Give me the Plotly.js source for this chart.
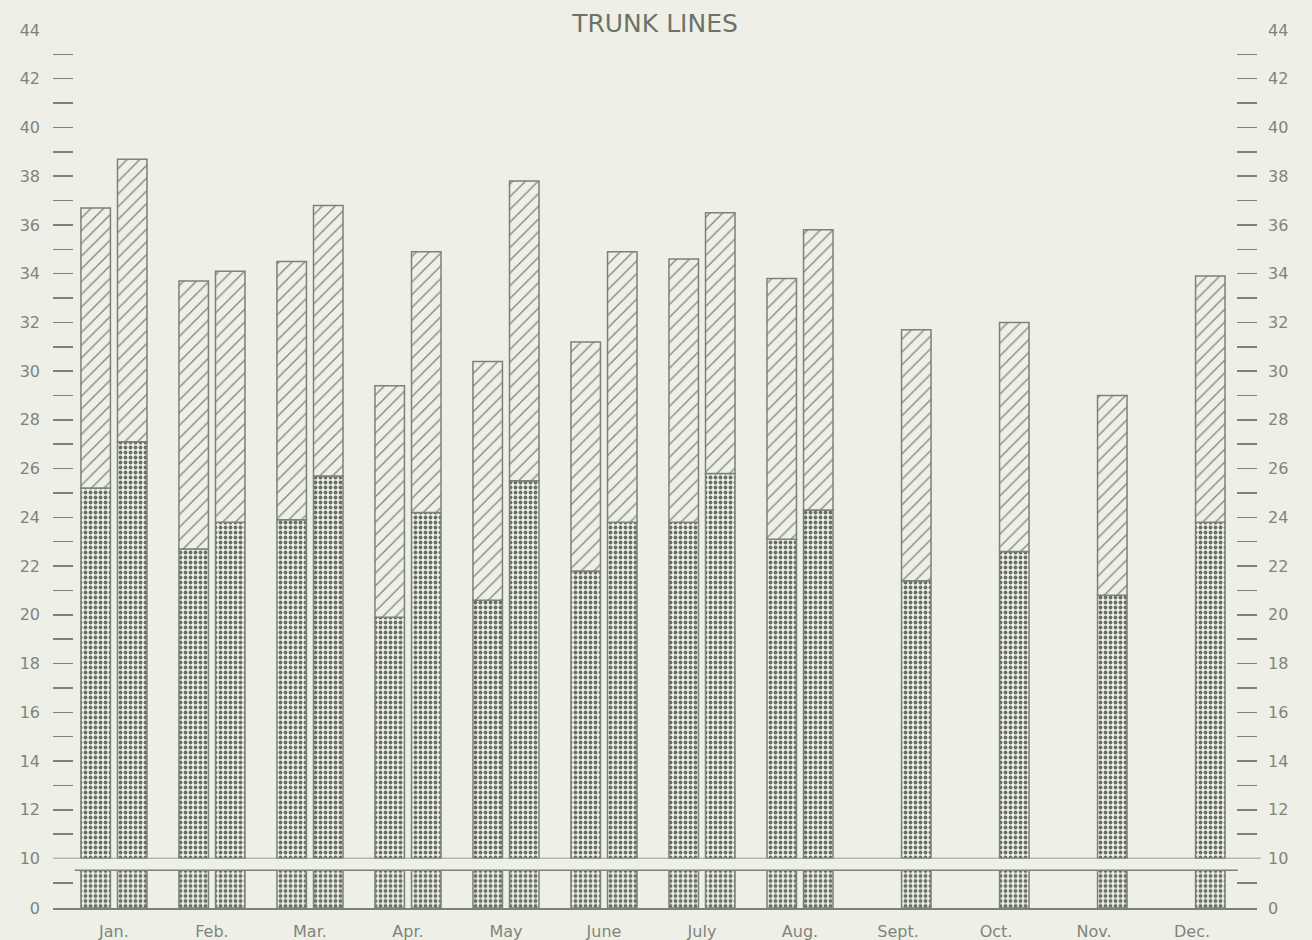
<!DOCTYPE html>
<html><head><meta charset="utf-8">
<script src="https://cdn.plot.ly/plotly-3.0.1.min.js"></script>
<style>html,body{margin:0;padding:0;background:#eef0e7;} #chart{width:1312px;height:940px;}</style>
</head><body><div id="chart"></div>
<script>
// ---- data ----
const months = ['Jan.','Feb.','Mar.','Apr.','May','June','July','Aug.','Sept.','Oct.','Nov.','Dec.'];
// first bar of each month (only Jan.–Aug.)
const stippleFirst = [25.2, 22.7, 23.9, 19.9, 20.6, 21.8, 23.8, 23.1, null, null, null, null];
const totalFirst   = [36.7, 33.7, 34.5, 29.4, 30.4, 31.2, 34.6, 33.8, null, null, null, null];
// second bar of each month
const stippleSecond = [27.1, 23.8, 25.7, 24.2, 25.5, 23.8, 25.8, 24.3, 21.4, 22.6, 20.8, 23.8];
const totalSecond   = [38.7, 34.1, 36.8, 34.9, 37.8, 34.9, 36.5, 35.8, 31.7, 32.0, 29.0, 33.9];
// axis break
const breakValue = 10;
// tick labels
const upperTickVals = [10,11,12,13,14,15,16,17,18,19,20,21,22,23,24,25,26,27,28,29,30,31,32,33,34,35,36,37,38,39,40,41,42,43,44];
const upperTickText = ['10','','12','','14','','16','','18','','20','','22','','24','','26','','28','','30','','32','','34','','36','','38','','40','','42','','44'];
const lowerTickVals = [0, 5];
const lowerTickText = ['0', ''];

// ---- style ----
const BG = '#eef0e7';
const LINE = '#7b8276';
const TEXT = '#7f857a';
const FONT = 'DejaVu Sans, sans-serif';
const BW = 0.301;
const OFF1 = -0.337, OFF2 = 0.036;

function lowerPart(arr){ return arr.map(v => v == null ? null : Math.min(v, breakValue)); }
function upperPart(arr){ return arr.map(v => v == null ? null : v - breakValue); }
function diff(top, bottom){ return top.map((v,i) => v == null ? null : v - bottom[i]); }

const stipplePattern = {shape: '.', size: 5, solidity: 0.45, fgcolor: '#687063', bgcolor: BG, fillmode: 'replace'};
const hatchPattern = {shape: '/', size: 9, solidity: 0.15, fgcolor: '#818879', bgcolor: BG, fillmode: 'replace'};

function bar(y, base, yaxis, offset, pattern){
  const t = {type:'bar', x: months, y: y, yaxis: yaxis, xaxis: 'x', width: BW, offset: offset,
    marker: {color: BG, line: {color: LINE, width: 1.5}, pattern: pattern},
    hoverinfo: 'skip', showlegend: false};
  if (base !== null) t.base = base;
  return t;
}

const traces = [
  bar(lowerPart(stippleFirst), null, 'y2', OFF1, stipplePattern),
  bar(lowerPart(stippleSecond), null, 'y2', OFF2, stipplePattern),
  bar(upperPart(stippleFirst), stippleFirst.map(v => v == null ? null : breakValue), 'y', OFF1, stipplePattern),
  bar(upperPart(stippleSecond), stippleSecond.map(v => v == null ? null : breakValue), 'y', OFF2, stipplePattern),
  bar(diff(totalFirst, stippleFirst), stippleFirst, 'y', OFF1, hatchPattern),
  bar(diff(totalSecond, stippleSecond), stippleSecond, 'y', OFF2, hatchPattern),
  // empty traces so the right-hand mirror axes get drawn
  {type:'scatter', mode:'markers', x: [], y: [], xaxis:'x', yaxis:'y3', hoverinfo:'skip', showlegend:false},
  {type:'scatter', mode:'markers', x: [], y: [], xaxis:'x', yaxis:'y4', hoverinfo:'skip', showlegend:false}
];

const lowerFrac = 0.0564;
const yCommon = {showgrid:false, zeroline:false, showline:false, ticks:'inside', ticklen:20, tickwidth:1.5,
  tickcolor: LINE, tickfont:{family: FONT, size: 16, color: TEXT}, fixedrange:true};

const layout = {
  width: 1312, height: 940,
  paper_bgcolor: BG, plot_bgcolor: BG,
  margin: {l: 53, r: 55, t: 30, b: 32},
  barmode: 'overlay',
  showlegend: false,
  title: {text: 'TRUNK LINES', font: {family: FONT, size: 25, color: '#6d7369'},
          xref: 'paper', x: 0.5, xanchor: 'center', yref: 'container', y: 1 - 23/940, yanchor: 'middle'},
  xaxis: {type:'category', categoryorder:'array', categoryarray: months, range:[-0.622, 11.663],
    anchor:'y2', domain:[0,1], showline:true, linecolor: LINE, linewidth: 2, ticks:'', showgrid:false,
    zeroline:false, tickfont:{family: FONT, size: 16, color: TEXT}, ticklabelstandoff: 8, fixedrange:true},
  yaxis: Object.assign({}, yCommon, {domain:[lowerFrac, 1], range:[breakValue, 44], anchor:'x',
    tickmode:'array', tickvals: upperTickVals, ticktext: upperTickText, ticklabelstandoff: 12}),
  yaxis2: Object.assign({}, yCommon, {domain:[0, lowerFrac], range:[0, breakValue], anchor:'x',
    tickmode:'array', tickvals: lowerTickVals, ticktext: lowerTickText, ticklabelstandoff: 12}),
  yaxis3: Object.assign({}, yCommon, {overlaying:'y', side:'right', range:[breakValue, 44], anchor:'x',
    tickmode:'array', tickvals: upperTickVals, ticktext: upperTickText, ticklabelstandoff: 10}),
  yaxis4: Object.assign({}, yCommon, {overlaying:'y2', side:'right', range:[0, breakValue], anchor:'x',
    tickmode:'array', tickvals: lowerTickVals, ticktext: lowerTickText, ticklabelstandoff: 10}),
  shapes: [
    {type:'rect', xref:'paper', x0:0, x1:1, yref:'y2', y0:7.6, y1:breakValue, fillcolor: BG, line:{width:0}, layer:'above'},
    {type:'line', xref:'paper', x0:0, x1:1.003, yref:'y', y0:breakValue, y1:breakValue, line:{color: LINE, width:1.5}, layer:'above'},
    {type:'line', xref:'paper', x0:0.018, x1:0.984, yref:'y2', y0:7.6, y1:7.6, line:{color: LINE, width:1.5}, layer:'above'}
  ]
};

Plotly.newPlot('chart', traces, layout, {displayModeBar:false, staticPlot:true});
</script>
</body></html>
